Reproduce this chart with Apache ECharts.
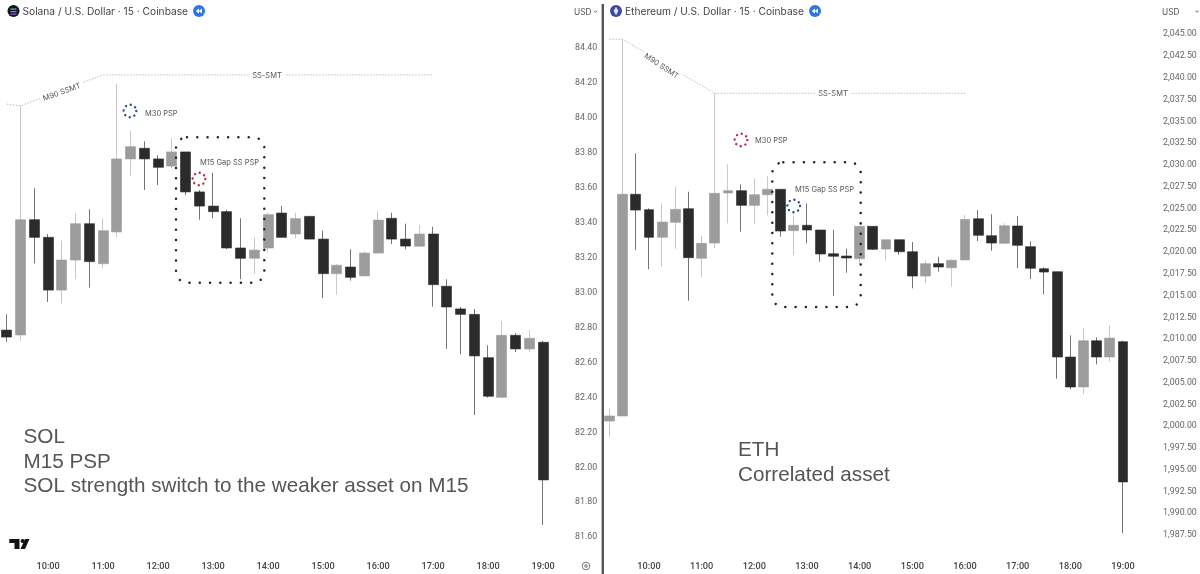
<!DOCTYPE html>
<html><head><meta charset="utf-8"><style>html,body{margin:0;padding:0;background:#fff}#c{width:1200px;height:574px}</style>
<script src="https://cdn.jsdelivr.net/npm/echarts@6/dist/echarts.min.js"></script></head>
<body><div id="c"></div>
<script>
const categories = ["09:15","09:30","09:45","10:00","10:15","10:30","10:45","11:00","11:15","11:30","11:45","12:00","12:15","12:30","12:45","13:00","13:15","13:30","13:45","14:00","14:15","14:30","14:45","15:00","15:15","15:30","15:45","16:00","16:15","16:30","16:45","17:00","17:15","17:30","17:45","18:00","18:15","18:30","18:45","19:00"];
// [open, close, low, high]
const solCandles = [
[82.786,82.746,82.718,82.876],[82.758,83.418,82.725,84.069],[83.418,83.317,83.168,83.598],[83.317,83.015,82.947,83.336],
[83.015,83.187,82.939,83.298],[83.187,83.395,83.077,83.455],[83.395,83.178,83.029,83.478],[83.166,83.355,83.140,83.426],
[83.348,83.766,83.317,84.195],[83.766,83.836,83.670,83.928],[83.827,83.766,83.588,83.867],[83.766,83.718,83.617,83.787],
[83.725,83.806,83.712,83.886],[83.806,83.577,83.559,83.806],[83.577,83.496,83.418,83.588],[83.496,83.464,83.426,83.687],
[83.464,83.256,83.249,83.474],[83.256,83.197,83.078,83.426],[83.197,83.244,83.107,83.317],[83.256,83.447,83.229,83.458],
[83.456,83.317,83.317,83.496],[83.336,83.424,83.311,83.458],[83.437,83.307,83.307,83.440],[83.307,83.109,82.968,83.355],
[83.109,83.157,82.989,83.164],[83.147,83.088,83.069,83.249],[83.096,83.227,83.096,83.237],[83.227,83.416,83.227,83.468],
[83.426,83.307,83.279,83.458],[83.307,83.267,83.249,83.395],[83.266,83.336,83.266,83.388],[83.336,83.046,82.920,83.378],
[83.037,82.918,82.679,83.077],[82.907,82.876,82.647,82.918],[82.876,82.638,82.300,82.907],[82.628,82.407,82.399,82.699],
[82.401,82.756,82.401,82.838],[82.756,82.678,82.660,82.768],[82.678,82.739,82.660,82.786],[82.716,81.928,81.670,82.723]];
const ethCandles = [
[2000.59,2001.17,1998.75,2001.97],[2001.17,2026.63,2001.17,2044.43],[2026.63,2024.82,2020.23,2031.33],[2024.86,2021.69,2018.01,2025.02],
[2021.69,2023.44,2018.31,2025.59],[2023.41,2024.90,2020.38,2027.50],[2024.97,2019.35,2014.41,2026.92],[2019.28,2021.00,2017.16,2021.84],
[2021.03,2026.74,2020.46,2038.22],[2026.78,2027.04,2023.30,2030.07],[2027.04,2025.36,2022.33,2027.77],[2025.36,2026.58,2023.21,2028.46],
[2026.58,2027.20,2024.21,2028.73],[2027.20,2022.41,2021.76,2027.20],[2022.45,2023.07,2019.66,2024.17],[2023.07,2022.53,2021.00,2025.59],
[2022.53,2019.77,2018.89,2022.53],[2019.80,2019.51,2014.95,2022.53],[2019.54,2019.31,2017.62,2020.38],[2019.23,2022.95,2018.62,2022.95],
[2022.95,2020.31,2020.23,2022.95],[2020.34,2021.41,2019.00,2021.41],[2021.41,2020.03,2019.69,2021.41],[2020.03,2017.24,2015.83,2021.15],
[2017.24,2018.66,2016.41,2019.05],[2018.66,2018.28,2017.74,2019.46],[2018.20,2019.05,2016.01,2019.16],[2019.08,2023.75,2019.08,2024.25],
[2023.82,2021.92,2021.26,2024.82],[2021.87,2021.03,2020.15,2024.33],[2021.00,2023.02,2021.00,2023.30],[2022.99,2020.77,2018.16,2024.13],
[2020.61,2018.13,2016.90,2021.23],[2018.08,2017.70,2015.14,2018.24],[2017.74,2007.94,2005.45,2017.74],[2007.94,2004.50,2004.23,2010.43],
[2004.50,2009.81,2003.69,2011.24],[2009.81,2007.94,2007.10,2010.20],[2007.94,2010.12,2007.40,2011.58],[2009.70,1993.59,1987.70,2009.81]];
const solLine = [["09:15",84.08],["09:30",84.07],["11:00",84.247],["17:00",84.247]];
const ethLine = [["09:15",2044.43],["09:30",2044.43],["11:15",2038.22],["16:00",2038.22]];

const UP='#9c9c9c', DOWN='#2b2b2b', UPW='#c9c9c9', DOWNW='#757575';
const FONT='Inter, "Noto Sans", sans-serif', AXF='Roboto, "Liberation Sans", sans-serif', BIG='"Liberation Sans", Arial, sans-serif';
const bodyOf = a => a.map(d => [d[0], d[1], Math.min(d[0],d[1]), Math.max(d[0],d[1])]);

function paneSeries(idx, candles, line, bw){
  return [
    {type:'candlestick',xAxisIndex:idx,yAxisIndex:idx,barWidth:1,data:candles,silent:true,
     itemStyle:{color:UPW,color0:DOWNW,borderColor:UPW,borderColor0:DOWNW,borderWidth:1}},
    {type:'candlestick',xAxisIndex:idx,yAxisIndex:idx,barWidth:bw,data:bodyOf(candles),silent:true,
     itemStyle:{color:UP,color0:DOWN,borderColor:UP,borderColor0:DOWN,borderWidth:0.6}},
    {type:'line',xAxisIndex:idx,yAxisIndex:idx,data:line,symbol:'none',silent:true,
     lineStyle:{color:'#a8a8a8',width:0.8,type:[1.5,1.5]}}
  ];
}
const xAxisCfg = (grid, margin) => ({type:'category',gridIndex:grid,data:categories,boundaryGap:true,
  axisLine:{show:false},axisTick:{show:false},splitLine:{show:false},
  axisLabel:{interval:(i,v)=>v.endsWith(':00'),margin,color:'#444',fontSize:9.2,fontFamily:AXF,fontWeight:500,hideOverlap:false}});

// annotation helpers
const g=[];
const txt=(s,x,y,size,color,o={})=>g.push(Object.assign({type:'text',z:50,style:Object.assign({text:s,x,y:y+0.7,fontSize:size,fill:color,fontFamily:FONT,verticalAlign:'middle',textVerticalAlign:'middle'},o.style||{})},o.el||{}));
const labelBg=(s,cx,cy,rot)=>g.push({type:'text',z:40,x:cx,y:cy,rotation:rot,style:{text:s,x:0,y:0.5,fontSize:7.5,fill:'#555',fontFamily:FONT,align:'center',verticalAlign:'middle',backgroundColor:'#fff',padding:[1,3]}});
const ring=(cx,cy,c)=>g.push({type:'circle',z:45,shape:{cx,cy,r:6.3},style:{fill:'none',stroke:c,lineWidth:2.4,lineCap:'round',lineDash:[0.01,4.94]}});
const box=(x,y,w,h)=>g.push({type:'rect',z:45,shape:{x,y,width:w,height:h,r:11},style:{fill:'none',stroke:'#222',lineWidth:2.5,lineCap:'round',lineDash:[0.01,10.27]}});
const rewind=(cx,cy)=>{g.push({type:'circle',z:50,shape:{cx,cy,r:6},style:{fill:'#2f75e6'}});
  [[cx-3.2,cx+0],[cx-0.2,cx+3]].forEach(p=>g.push({type:'polygon',z:51,shape:{points:[[p[0],cy],[p[1],cy-2.4],[p[1],cy+2.4]]},style:{fill:'#fff'}}));};
const chevron=(x,y)=>g.push({type:'polyline',z:50,shape:{points:[[x-1.6,y-0.8],[x,y+0.8],[x+1.6,y-0.8]]},style:{stroke:'#555',lineWidth:0.9,fill:'none'}});

// divider
g.push({type:'rect',z:30,shape:{x:601.6,y:4,width:2.4,height:570},style:{fill:'#555'}});
// headers
g.push({type:'circle',z:50,shape:{cx:13.5,cy:11,r:6},style:{fill:'#10161c'}});
[[8.5,'#35d6c0'],[11,'#5a9be0'],[13.5,'#8f5cf0']].forEach(b=>g.push({type:'rect',z:51,shape:{x:10.5,y:b[0],width:6,height:1.2},style:{fill:b[1]}}));
txt('Solana / U.S. Dollar · 15 · Coinbase',22.5,11,10.2,'#444');
rewind(199,11);
g.push({type:'circle',z:50,shape:{cx:616,cy:11,r:6},style:{fill:'#3f4a9c'}});
g.push({type:'polygon',z:51,shape:{points:[[616,6.8],[618.4,11],[616,15.2],[613.6,11]]},style:{fill:'#dfe3f7'}});
txt('Ethereum / U.S. Dollar · 15 · Coinbase',625,11,10.2,'#444');
rewind(815,11);
txt('USD',574,11.5,8.3,'#555'); chevron(595.5,11.5);
txt('USD',1162,11.5,8.3,'#555'); chevron(1197,11.5);
// SMT labels
labelBg('M90 SSMT',61.7,91.7,0.35);
labelBg('SS-SMT',267,75,0);
labelBg('M90 SSMT',661.7,65.7,-0.59);
labelBg('SS-SMT',833,93,0);
// PSP markers
ring(130,111,'#2d4d92'); txt('M30 PSP',145,113.5,7.5,'#555');
ring(199,179,'#b82a45'); txt('M15 Gap SS PSP',200,162,7.5,'#555');
ring(741,140,'#b82a45'); txt('M30 PSP',755,140,7.5,'#555');
ring(793.7,206,'#2d4d92'); txt('M15 Gap SS PSP',795,188.7,7.5,'#555');
box(176,137.3,88.3,145.4);
box(772.3,162.3,88.4,144.7);
// notes
[['SOL',437],['M15 PSP',461.5],['SOL strength switch to the weaker asset on M15',486]].forEach(t=>txt(t[0],23.5,t[1],20.7,'#555',{style:{fontFamily:BIG}}));
[['ETH',450],['Correlated asset',474.5]].forEach(t=>txt(t[0],738,t[1],20.7,'#555',{style:{fontFamily:BIG}}));
// TV logo
g.push({type:'polygon',z:50,shape:{points:[[9.3,539],[19.5,539],[19.5,549],[14.5,549],[14.5,543],[9.3,543]]},style:{fill:'#111'}});
g.push({type:'circle',z:50,shape:{cx:22.6,cy:541,r:2},style:{fill:'#111'}});
g.push({type:'polygon',z:50,shape:{points:[[25,539],[29.5,539],[25,549],[20.5,549]]},style:{fill:'#111'}});
// gear
g.push({type:'circle',z:50,shape:{cx:586,cy:566,r:3.8},style:{fill:'none',stroke:'#555',lineWidth:0.8}});
g.push({type:'circle',z:50,shape:{cx:586,cy:566,r:1.3},style:{fill:'none',stroke:'#555',lineWidth:0.8}});

const chart=echarts.init(document.getElementById('c'),null,{renderer:'canvas',width:1200,height:574});
chart.setOption({
  animation:false,backgroundColor:'#fff',tooltip:{show:false},legend:{show:false},
  grid:[{left:0,width:550,top:13.27,height:523.93,outerBoundsMode:'none'},{left:602.9,width:526.7,top:12.53,height:544.27,outerBoundsMode:'none'}],
  xAxis:[xAxisCfg(0,25),xAxisCfg(1,5)],
  yAxis:[
    {type:'value',gridIndex:0,position:'right',min:81.6,max:84.6,interval:0.2,scale:true,axisLine:{show:false},axisTick:{show:false},splitLine:{show:false},
     axisLabel:{margin:25,showMaxLabel:false,padding:[2,0,0,0],color:'#666',fontSize:8.8,fontFamily:AXF,formatter:v=>v.toFixed(2)}},
    {type:'value',gridIndex:1,position:'right',min:1985,max:2047.5,interval:2.5,scale:true,axisLine:{show:false},axisTick:{show:false},splitLine:{show:false},
     axisLabel:{margin:33.5,showMinLabel:false,showMaxLabel:false,padding:[2,0,0,0],color:'#666',fontSize:8.8,fontFamily:AXF,formatter:v=>v.toLocaleString('en-US',{minimumFractionDigits:2,maximumFractionDigits:2})}}
  ],
  series:[...paneSeries(0,solCandles,solLine,10.4),...paneSeries(1,ethCandles,ethLine,10.2)],
  graphic:{elements:g}
});
</script></body></html>
